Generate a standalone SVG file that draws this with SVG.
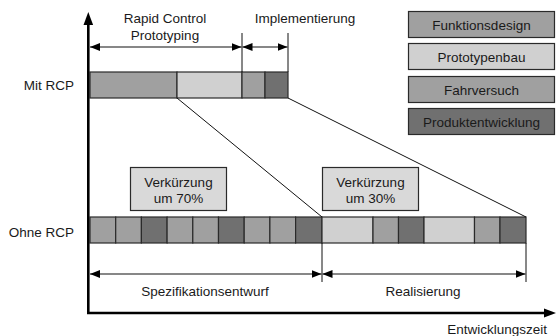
<svg xmlns="http://www.w3.org/2000/svg" width="556" height="336" viewBox="0 0 556 336">
  <style>
    text { font-family: "Liberation Sans", Arial, sans-serif; font-size: 13.5px; fill: #1a1a1a; }
    .mid { text-anchor: middle; }
    .end { text-anchor: end; }
    .seg { stroke: #2a2a2a; stroke-width: 1.2; }
    .fd { fill: #a0a0a0; }
    .pb { fill: #d0d0d0; }
    .fv { fill: #a0a0a0; }
    .pe { fill: #707070; }
    .note { fill: #d9d9d9; stroke: #2a2a2a; stroke-width: 1.2; }
    .dim { stroke: #111; stroke-width: 1.2; fill: none; }
    .tick { stroke: #111; stroke-width: 1; }
    .axis { stroke: #000; stroke-width: 2.6; fill: none; }
  </style>
  <defs>
    <marker id="ah" viewBox="0 0 10 8" refX="10" refY="4" markerWidth="10" markerHeight="8" markerUnits="userSpaceOnUse" orient="auto-start-reverse">
      <path d="M0,0 L10,4 L0,8 Z" fill="#000"/>
    </marker>
  </defs>

  <!-- Legend -->
  <g id="legend-funktionsdesign">
    <rect class="seg fd" x="408.5" y="11.5" width="146" height="26"/>
    <text class="mid" x="481.5" y="29.5">Funktionsdesign</text>
  </g>
  <g id="legend-prototypenbau">
    <rect class="seg pb" x="408.5" y="43.5" width="146" height="26"/>
    <text class="mid" x="481.5" y="61.5">Prototypenbau</text>
  </g>
  <g id="legend-fahrversuch">
    <rect class="seg fv" x="408.5" y="76.5" width="146" height="26"/>
    <text class="mid" x="481.5" y="94.5">Fahrversuch</text>
  </g>
  <g id="legend-produktentwicklung">
    <rect class="seg pe" x="408.5" y="108.5" width="146" height="26"/>
    <text class="mid" x="481.5" y="126.5">Produktentwicklung</text>
  </g>

  <!-- Row labels -->
  <g id="label-mit">
    <text class="end" x="74" y="90">Mit RCP</text>
  </g>
  <g id="label-ohne">
    <text class="end" x="74" y="237">Ohne RCP</text>
  </g>

  <!-- Process with RCP -->
  <g id="bar-mit">
    <rect class="seg fd" x="90" y="72" width="87" height="26"/>
    <rect class="seg pb" x="177" y="72" width="65" height="26"/>
    <rect class="seg fv" x="242" y="72" width="23" height="26"/>
    <rect class="seg pe" x="265" y="72" width="23" height="26"/>
  </g>

  <!-- Process without RCP -->
  <g id="bar-ohne">
    <rect class="seg fd" x="90" y="217" width="25.7" height="26"/>
    <rect class="seg fv" x="115.7" y="217" width="25.7" height="26"/>
    <rect class="seg pe" x="141.4" y="217" width="25.7" height="26"/>
    <rect class="seg fd" x="167.1" y="217" width="25.7" height="26"/>
    <rect class="seg fv" x="192.8" y="217" width="25.7" height="26"/>
    <rect class="seg pe" x="218.5" y="217" width="25.7" height="26"/>
    <rect class="seg fd" x="244.2" y="217" width="25.7" height="26"/>
    <rect class="seg fv" x="269.9" y="217" width="25.7" height="26"/>
    <rect class="seg pe" x="295.6" y="217" width="26.4" height="26"/>
    <rect class="seg pb" x="322" y="217" width="51" height="26"/>
    <rect class="seg fv" x="373" y="217" width="25.5" height="26"/>
    <rect class="seg pe" x="398.5" y="217" width="25.5" height="26"/>
    <rect class="seg pb" x="424" y="217" width="50.5" height="26"/>
    <rect class="seg fv" x="474.5" y="217" width="25.5" height="26"/>
    <rect class="seg pe" x="500" y="217" width="26" height="26"/>
  </g>

  <!-- Notes -->
  <g id="note-70">
    <rect class="note" x="130.5" y="167.5" width="96" height="43"/>
    <text class="mid" x="178.5" y="187">Verkürzung</text>
    <text class="mid" x="178.5" y="203">um 70%</text>
  </g>
  <g id="note-30">
    <rect class="note" x="322.5" y="167.5" width="96" height="43"/>
    <text class="mid" x="370.5" y="187">Verkürzung</text>
    <text class="mid" x="370.5" y="203">um 30%</text>
  </g>

  <!-- Phase labels -->
  <g id="phase-rcp">
    <text class="mid" x="165" y="23">Rapid Control</text>
    <text class="mid" x="165" y="40">Prototyping</text>
  </g>
  <g id="phase-impl">
    <text class="mid" x="305" y="23">Implementierung</text>
  </g>
  <g id="phase-spez">
    <text class="mid" x="205" y="296">Spezifikationsentwurf</text>
  </g>
  <g id="phase-real">
    <text class="mid" x="423" y="296">Realisierung</text>
  </g>
  <g id="axis-label">
    <text class="end" x="547" y="334">Entwicklungszeit</text>
  </g>

  <!-- Connectors -->
  <g id="connectors">
    <!-- projection lines -->
    <line class="tick" x1="177" y1="98" x2="322" y2="217"/>
    <line class="tick" x1="288" y1="98" x2="526" y2="217"/>
    <!-- top extension lines -->
    <line class="tick" x1="242" y1="33" x2="242" y2="72"/>
    <line class="tick" x1="288" y1="33" x2="288" y2="72"/>
    <!-- bottom extension lines -->
    <line class="tick" x1="322" y1="243" x2="322" y2="282"/>
    <line class="tick" x1="526" y1="243" x2="526" y2="282"/>
    <!-- dimension arrows -->
    <line class="dim" x1="90" y1="47" x2="241.5" y2="47" marker-start="url(#ah)" marker-end="url(#ah)"/>
    <line class="dim" x1="242.5" y1="47" x2="287.5" y2="47" marker-start="url(#ah)" marker-end="url(#ah)"/>
    <line class="dim" x1="90" y1="274" x2="321.5" y2="274" marker-start="url(#ah)" marker-end="url(#ah)"/>
    <line class="dim" x1="322.5" y1="274" x2="525.5" y2="274" marker-start="url(#ah)" marker-end="url(#ah)"/>
    <!-- axes -->
    <polyline class="axis" points="88.3,24 88.3,313 545,313"/>
    <path d="M88.3,12 L83.5,25 L93.1,25 Z" fill="#000"/>
    <path d="M556,313 L544,308.5 L544,317.5 Z" fill="#000"/>
  </g>
</svg>
